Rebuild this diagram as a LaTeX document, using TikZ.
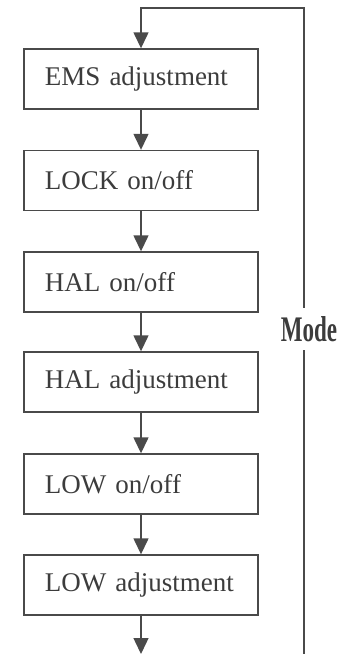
\documentclass[tikz,border=0pt]{standalone}
\usepackage{fontspec}
\usepackage{graphicx}
\setmainfont{Liberation Serif}
\usetikzlibrary{arrows.meta}
\definecolor{ink}{HTML}{4A4A4A}
\definecolor{txt}{HTML}{3C3C3C}
\tikzset{
  stepbox/.style={draw=ink, line width=1.4pt, rectangle, minimum height=60pt,
    inner xsep=21pt, inner ysep=0pt, text width=192pt, align=left, text=txt,
    font=\fontsize{27}{30}\selectfont},
  flow/.style={draw=ink, line width=1.4pt, -{Triangle[width=15pt,length=16pt]}},
  plain/.style={draw=ink, line width=1.4pt}
}
\begin{document}
\begin{tikzpicture}[x=1pt,y=-1pt]
\useasboundingbox (0,0) rectangle (340,654);
\node[stepbox] (b1) at (141,79) {EMS adjustment};
\node[stepbox] (b2) at (141,180.5) {LOCK on/off};
\node[stepbox] (b3) at (141,282) {HAL on/off};
\node[stepbox] (b4) at (141,382) {HAL adjustment};
\node[stepbox] (b5) at (141,484) {LOW on/off};
\node[stepbox] (b6) at (141,585) {LOW adjustment};
\node[text=txt, inner sep=0pt, minimum height=42pt] (mode) at (309,329)
  {\scalebox{0.64}[1]{\fontsize{36}{36}\selectfont\bfseries Mode}};
\coordinate (endpt) at (141,654);
\coordinate (rbot) at (304,654);
\coordinate (rtop) at (304,8);
\coordinate (ltop) at (141,8);
\draw[flow] (b1) -- (b2);
\draw[flow] (b2) -- (b3);
\draw[flow] (b3) -- (b4);
\draw[flow] (b4) -- (b5);
\draw[flow] (b5) -- (b6);
\draw[flow] (b6) -- (endpt);
\draw[plain] (rbot) -- (rbot |- mode.south);
\draw[flow] (rtop |- mode.north) -- (rtop) -- (ltop) -- (b1);
\end{tikzpicture}
\end{document}
